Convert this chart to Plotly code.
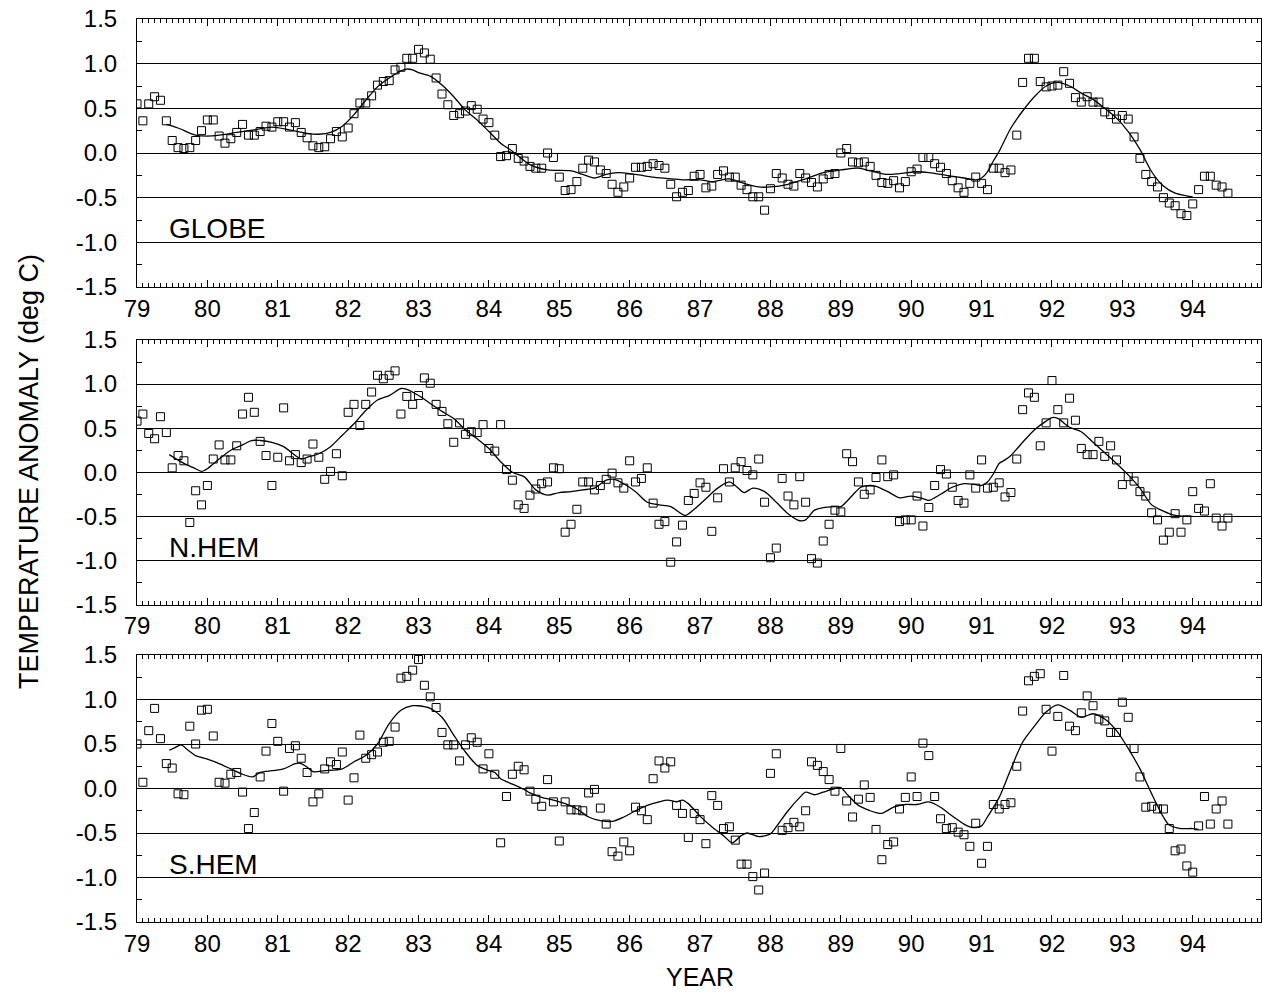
import plotly.graph_objects as go

# ---------------- data (monthly anomalies, Jan 1979 .. Jul 1994) ----------------
globe = [0.55, 0.36, 0.55, 0.63, 0.59, 0.36, 0.14, 0.06, 0.05, 0.06,
         0.14, 0.25, 0.37, 0.37, 0.19, 0.11, 0.16, 0.23, 0.32, 0.20,
         0.20, 0.24, 0.30, 0.29, 0.35, 0.35, 0.29, 0.34, 0.23, 0.17,
         0.08, 0.06, 0.07, 0.16, 0.24, 0.18, 0.28, 0.44, 0.56, 0.56,
         0.64, 0.76, 0.80, 0.81, 0.93, 0.96, 1.06, 1.06, 1.16, 1.12,
         1.05, 0.84, 0.66, 0.54, 0.42, 0.44, 0.47, 0.53, 0.49, 0.38,
         0.34, 0.20, -0.04, -0.03, 0.05, -0.06, -0.09, -0.15, -0.17, -0.17,
         0.00, -0.05, -0.27, -0.42, -0.41, -0.32, -0.17, -0.08, -0.10, -0.19,
         -0.23, -0.35, -0.44, -0.38, -0.28, -0.16, -0.16, -0.15, -0.12, -0.14,
         -0.17, -0.35, -0.49, -0.44, -0.42, -0.26, -0.24, -0.39, -0.37, -0.24,
         -0.20, -0.27, -0.27, -0.36, -0.41, -0.49, -0.49, -0.64, -0.40, -0.23,
         -0.28, -0.35, -0.37, -0.23, -0.28, -0.33, -0.38, -0.29, -0.24, -0.23,
         0.00, 0.05, -0.10, -0.11, -0.10, -0.15, -0.25, -0.33, -0.34, -0.31,
         -0.39, -0.32, -0.21, -0.18, -0.05, -0.05, -0.12, -0.16, -0.23, -0.31,
         -0.39, -0.44, -0.34, -0.27, -0.34, -0.41, -0.17, -0.17, -0.22, -0.19,
         0.20, 0.79, 1.06, 1.06, 0.80, 0.74, 0.75, 0.76, 0.91, 0.78,
         0.62, 0.57, 0.63, 0.57, 0.57, 0.46, 0.43, 0.38, 0.42, 0.38,
         0.18, -0.06, -0.24, -0.32, -0.38, -0.50, -0.56, -0.59, -0.68, -0.70,
         -0.57, -0.41, -0.26, -0.26, -0.36, -0.38, -0.45]

nhem = [0.58, 0.66, 0.44, 0.38, 0.63, 0.45, 0.05, 0.19, 0.13, -0.57,
        -0.21, -0.37, -0.15, 0.15, 0.31, 0.14, 0.14, 0.30, 0.66, 0.85,
        0.68, 0.35, 0.19, -0.15, 0.17, 0.73, 0.13, 0.20, 0.11, 0.15,
        0.32, 0.17, -0.08, 0.01, 0.21, -0.04, 0.68, 0.77, 0.53, 0.77,
        0.91, 1.10, 1.06, 1.10, 1.15, 0.66, 0.86, 0.77, 0.87, 1.07,
        1.01, 0.77, 0.69, 0.55, 0.34, 0.56, 0.43, 0.46, 0.45, 0.54,
        0.27, 0.24, 0.54, 0.03, -0.09, -0.37, -0.41, -0.26, -0.19, -0.13,
        -0.11, 0.05, 0.04, -0.68, -0.59, -0.42, -0.11, -0.11, -0.20, -0.15,
        -0.08, -0.01, -0.12, -0.18, 0.13, -0.11, -0.07, 0.05, -0.35, -0.59,
        -0.56, -1.02, -0.79, -0.60, -0.32, -0.24, -0.12, -0.17, -0.67, -0.29,
        0.04, -0.11, 0.05, 0.12, 0.02, -0.03, 0.15, -0.34, -0.97, -0.86,
        -0.07, -0.27, -0.37, -0.05, -0.34, -0.98, -1.03, -0.78, -0.59, -0.43,
        -0.45, 0.21, 0.12, -0.11, -0.25, -0.20, -0.06, 0.14, -0.05, -0.03,
        -0.56, -0.54, -0.54, -0.27, -0.61, -0.40, -0.15, 0.03, -0.02, -0.17,
        -0.32, -0.35, -0.03, -0.18, 0.14, -0.18, -0.17, -0.12, -0.28, -0.23,
        0.15, 0.71, 0.90, 0.85, 0.30, 0.56, 1.04, 0.71, 0.56, 0.84,
        0.59, 0.27, 0.20, 0.20, 0.35, 0.18, 0.30, 0.14, -0.14, -0.05,
        -0.10, -0.22, -0.27, -0.46, -0.54, -0.77, -0.68, -0.47, -0.68, -0.54,
        -0.22, -0.41, -0.44, -0.13, -0.52, -0.61, -0.52]

shem = [0.50, 0.07, 0.65, 0.90, 0.56, 0.28, 0.23, -0.06, -0.07, 0.70,
        0.50, 0.88, 0.89, 0.59, 0.07, 0.06, 0.16, 0.18, -0.04, -0.45,
        -0.27, 0.13, 0.42, 0.73, 0.53, -0.03, 0.45, 0.48, 0.34, 0.18,
        -0.15, -0.06, 0.22, 0.30, 0.27, 0.41, -0.13, 0.12, 0.60, 0.34,
        0.38, 0.41, 0.52, 0.53, 0.69, 1.24, 1.26, 1.33, 1.45, 1.16,
        1.03, 0.91, 0.63, 0.49, 0.49, 0.31, 0.49, 0.57, 0.52, 0.22,
        0.39, 0.16, -0.61, -0.09, 0.16, 0.25, 0.21, -0.03, -0.12, -0.20,
        0.10, -0.15, -0.59, -0.15, -0.24, -0.24, -0.25, -0.05, -0.01, -0.22,
        -0.40, -0.71, -0.76, -0.60, -0.70, -0.21, -0.25, -0.35, 0.11, 0.31,
        0.23, 0.30, -0.19, -0.28, -0.55, -0.28, -0.35, -0.62, -0.08, -0.19,
        -0.45, -0.43, -0.58, -0.85, -0.85, -0.99, -1.14, -0.95, 0.17, 0.39,
        -0.47, -0.44, -0.38, -0.43, -0.25, 0.30, 0.26, 0.19, 0.10, -0.03,
        0.45, -0.14, -0.32, -0.12, 0.04, -0.10, -0.46, -0.80, -0.63, -0.60,
        -0.23, -0.10, 0.13, -0.09, 0.51, 0.37, -0.09, -0.34, -0.45, -0.44,
        -0.49, -0.52, -0.65, -0.39, -0.84, -0.65, -0.18, -0.23, -0.18, -0.16,
        0.25, 0.87, 1.21, 1.26, 1.29, 0.89, 0.42, 0.81, 1.27, 0.70,
        0.65, 0.85, 1.04, 0.93, 0.78, 0.76, 0.63, 0.63, 0.97, 0.80,
        0.45, 0.13, -0.21, -0.20, -0.23, -0.23, -0.45, -0.70, -0.68, -0.87,
        -0.94, -0.42, -0.09, -0.40, -0.23, -0.14, -0.40]

# smoothed curves (month index since Jan 1979, value)
globe_sm_m = [5, 7, 10, 12, 14, 17, 20, 23, 26, 29,
              31, 33, 35, 37, 39, 41, 43, 45, 46, 47,
              48, 50, 52, 54, 56, 58, 60, 62, 64, 67,
              70, 74, 76, 78, 80, 82, 85, 88, 91, 93,
              96, 98, 101, 103, 106, 108, 111, 114, 117, 120,
              123, 125, 128, 130, 133, 135, 138, 141, 143, 144,
              145, 146, 147, 149, 151, 153, 155, 157, 159, 161, 163,
              165, 167, 169, 171, 173, 175, 177, 179, 180]
globe_sm_v = [0.32, 0.28, 0.20, 0.19, 0.20, 0.23, 0.26, 0.29, 0.26, 0.22,
              0.21, 0.23, 0.30, 0.43, 0.59, 0.74, 0.84, 0.92, 0.94, 0.93,
              0.90, 0.86, 0.76, 0.63, 0.48, 0.37, 0.24, 0.11, 0.02, -0.13,
              -0.19, -0.20, -0.24, -0.28, -0.24, -0.22, -0.24, -0.27, -0.29, -0.30,
              -0.30, -0.32, -0.29, -0.33, -0.38, -0.38, -0.35, -0.29, -0.22, -0.19,
              -0.17, -0.20, -0.24, -0.23, -0.21, -0.22, -0.25, -0.28, -0.30, -0.28,
              -0.21, -0.09, 0.02, 0.28, 0.47, 0.63, 0.75, 0.79, 0.75, 0.67, 0.60,
              0.50, 0.39, 0.24, 0.04, -0.21, -0.37, -0.45, -0.48, -0.49]

nhem_sm_m = [5.5, 8, 10, 11, 12, 14, 16, 18, 19.5, 21,
             23, 25, 27, 28, 29, 31, 33, 35, 37, 39,
             41, 43, 45, 46, 48, 50, 52, 54, 56, 58,
             60, 62, 64, 66, 68, 70, 72, 74, 76, 78,
             80, 81.4, 83, 85, 87, 89, 91, 93.5, 95, 97,
             99, 101, 102, 103.5, 105, 107, 109, 111, 113, 114,
             115.5, 117, 119, 120, 122, 123.4, 125, 126, 128, 130,
             132, 134, 135, 137, 139, 141, 143, 144, 145, 146,
             147, 148, 149, 151, 153, 155, 156, 157, 159, 161,
             163, 165, 167, 169, 171, 173, 175, 177, 179, 180]
nhem_sm_v = [0.20, 0.10, 0.04, 0.01, 0.04, 0.15, 0.25, 0.31, 0.36, 0.36,
             0.34, 0.29, 0.19, 0.15, 0.17, 0.21, 0.29, 0.42, 0.55, 0.70,
             0.82, 0.87, 0.95, 0.94, 0.87, 0.78, 0.69, 0.61, 0.48, 0.38,
             0.27, 0.12, 0.00, -0.05, -0.20, -0.26, -0.23, -0.22, -0.20, -0.18,
             -0.09, -0.08, -0.13, -0.22, -0.34, -0.37, -0.39, -0.49, -0.42, -0.30,
             -0.18, -0.11, -0.15, -0.23, -0.18, -0.22, -0.34, -0.47, -0.55, -0.54,
             -0.43, -0.40, -0.39, -0.39, -0.26, -0.17, -0.15, -0.16, -0.22, -0.29,
             -0.27, -0.30, -0.32, -0.25, -0.17, -0.13, -0.14, -0.15, -0.11, -0.02,
             0.10, 0.14, 0.19, 0.34, 0.48, 0.58, 0.62, 0.61, 0.51, 0.46,
             0.34, 0.22, 0.10, -0.03, -0.18, -0.37, -0.44, -0.49, -0.50, -0.50]

shem_sm_m = [5.5, 6.5, 7.5, 8.7, 10, 12, 14, 16, 18, 19.7,
             21, 23, 25, 27, 28, 29, 30, 32, 35, 37,
             39, 41, 43, 45, 47, 48, 50, 52, 54, 56,
             58, 60, 61, 62, 64, 66, 67, 69, 71, 73,
             75, 77, 79, 81, 83, 85, 87, 89, 90.5, 92,
             93, 94, 96, 98, 100, 101.5, 103, 104, 106, 108,
             109, 111, 113, 114, 115.5, 117, 119, 120, 121, 123,
             125, 126, 127, 129, 131, 133, 135, 137, 139, 141,
             142, 143, 144, 145, 147, 149, 151, 153, 155, 157,
             159, 161, 163, 165, 167, 169, 171, 173, 175, 176,
             178, 180, 181]
shem_sm_v = [0.43, 0.46, 0.49, 0.43, 0.37, 0.33, 0.28, 0.22, 0.16, 0.13,
             0.18, 0.20, 0.22, 0.28, 0.28, 0.24, 0.19, 0.20, 0.22, 0.30,
             0.37, 0.50, 0.73, 0.88, 0.93, 0.93, 0.90, 0.80, 0.60, 0.41,
             0.26, 0.20, 0.18, 0.11, 0.05, -0.01, -0.05, -0.10, -0.13, -0.17,
             -0.23, -0.32, -0.36, -0.37, -0.32, -0.25, -0.19, -0.15, -0.13, -0.15,
             -0.13, -0.17, -0.31, -0.43, -0.53, -0.61, -0.53, -0.50, -0.54, -0.51,
             -0.43, -0.25, -0.10, -0.04, -0.07, -0.04, 0.00, 0.01, -0.06, -0.19,
             -0.25, -0.27, -0.28, -0.21, -0.18, -0.18, -0.15, -0.21, -0.31, -0.40,
             -0.43, -0.44, -0.42, -0.32, -0.10, 0.22, 0.52, 0.70, 0.86, 0.94,
             0.88, 0.80, 0.84, 0.78, 0.65, 0.45, 0.22, -0.06, -0.32, -0.41,
             -0.45, -0.45, -0.46]

panel_names = ["GLOBE", "N.HEM", "S.HEM"]
year_ticks = list(range(79, 95))
y_ticks = [-1.5, -1.0, -0.5, 0.0, 0.5, 1.0, 1.5]
y_ticktext = ["-1.5", "-1.0", "-0.5", "0.0", "0.5", "1.0", "1.5"]
y_minor = [-1.25, -0.75, -0.25, 0.25, 0.75, 1.25]

START_YEAR = 79


def to_year(m):
    return START_YEAR + m / 12.0


series = [
    (globe, globe_sm_m, globe_sm_v),
    (nhem, nhem_sm_m, nhem_sm_v),
    (shem, shem_sm_m, shem_sm_v),
]

FONT = "Liberation Sans, Arial, sans-serif"
W, H = 1262, 992
L, R = 137, 1
PW = W - L - R
# pixel boxes of the three panels (top, bottom) in window coordinates
boxes = [(19, 287), (340, 604.5), (655, 922)]

fig = go.Figure()
layout = dict(
    width=W, height=H,
    margin=dict(l=L, r=R, t=0, b=0, autoexpand=False),
    paper_bgcolor="white", plot_bgcolor="white",
    showlegend=False,
    font=dict(family=FONT, color="black"),
    annotations=[],
)

for k, (vals, sm_m, sm_v) in enumerate(series):
    xa = "x" if k == 0 else f"x{k+1}"
    ya = "y" if k == 0 else f"y{k+1}"
    months = [to_year(i) for i in range(len(vals))]
    fig.add_trace(go.Scatter(
        x=[to_year(m) for m in sm_m], y=sm_v, mode="lines",
        line=dict(color="black", width=1.3, shape="spline", smoothing=0.8),
        xaxis=xa, yaxis=ya, hoverinfo="skip"))
    fig.add_trace(go.Scatter(
        x=months, y=vals, mode="markers",
        marker=dict(symbol="square-open", size=8, color="black",
                    line=dict(width=1, color="black")),
        xaxis=xa, yaxis=ya))

    top, bot = boxes[k]
    dom = [1 - bot / H, 1 - top / H]
    xname = "xaxis" if k == 0 else f"xaxis{k+1}"
    yname = "yaxis" if k == 0 else f"yaxis{k+1}"
    layout[xname] = dict(
        domain=[0, 1], anchor=ya, range=[79, 94.97], automargin=False,
        tickmode="array", tickvals=year_ticks, ticktext=[str(t) for t in year_ticks],
        ticks="inside", ticklen=7, tickwidth=1, tickcolor="black",
        minor=dict(tickmode="linear", tick0=79, dtick=1 / 12, ticks="inside",
                   ticklen=4, tickwidth=1, tickcolor="black", showgrid=False),
        showline=True, linecolor="black", linewidth=1, mirror="allticks",
        showgrid=False, zeroline=False, ticklabeloverflow="allow",
        tickfont=dict(size=24, family=FONT, color="black"),
        ticklabelstandoff=0,
    )
    layout[yname] = dict(
        domain=dom, anchor=xa, range=[-1.5, 1.5], automargin=False,
        tickmode="array", tickvals=y_ticks, ticktext=y_ticktext,
        ticks="inside", ticklen=5, tickwidth=1, tickcolor="black",
        minor=dict(tickmode="array", tickvals=y_minor, ticks="inside",
                   ticklen=5, tickwidth=1, tickcolor="black", showgrid=False),
        showgrid=True, gridcolor="black", gridwidth=1,
        showline=True, linecolor="black", linewidth=1, mirror="allticks",
        zeroline=False, ticklabeloverflow="allow",
        tickfont=dict(size=24, family=FONT, color="black"),
        ticklabelstandoff=14,
    )
    layout["annotations"].append(dict(
        xref=xa, yref=ya, x=79.43, y=-0.85, text=panel_names[k],
        showarrow=False, xanchor="left", yanchor="middle",
        font=dict(size=28, family=FONT, color="black")))

layout["annotations"].append(dict(
    xref="paper", yref="paper", x=(29 - L) / PW, y=1 - 472 / H,
    text="TEMPERATURE ANOMALY (deg C)", textangle=-90, showarrow=False,
    xanchor="center", yanchor="middle",
    font=dict(size=27, family=FONT, color="black")))
layout["annotations"].append(dict(
    xref="paper", yref="paper", x=(700 - L) / PW, y=1 - 977 / H,
    text="YEAR", showarrow=False, xanchor="center", yanchor="middle",
    font=dict(size=25, family=FONT, color="black")))

fig.update_layout(**layout)
# remove the page's default body margin so the figure fills the window exactly
fig.write_html(
    "out.html",
    config={"displayModeBar": False},
    post_script="document.body.style.margin='0';document.body.style.overflow='hidden';",
)
